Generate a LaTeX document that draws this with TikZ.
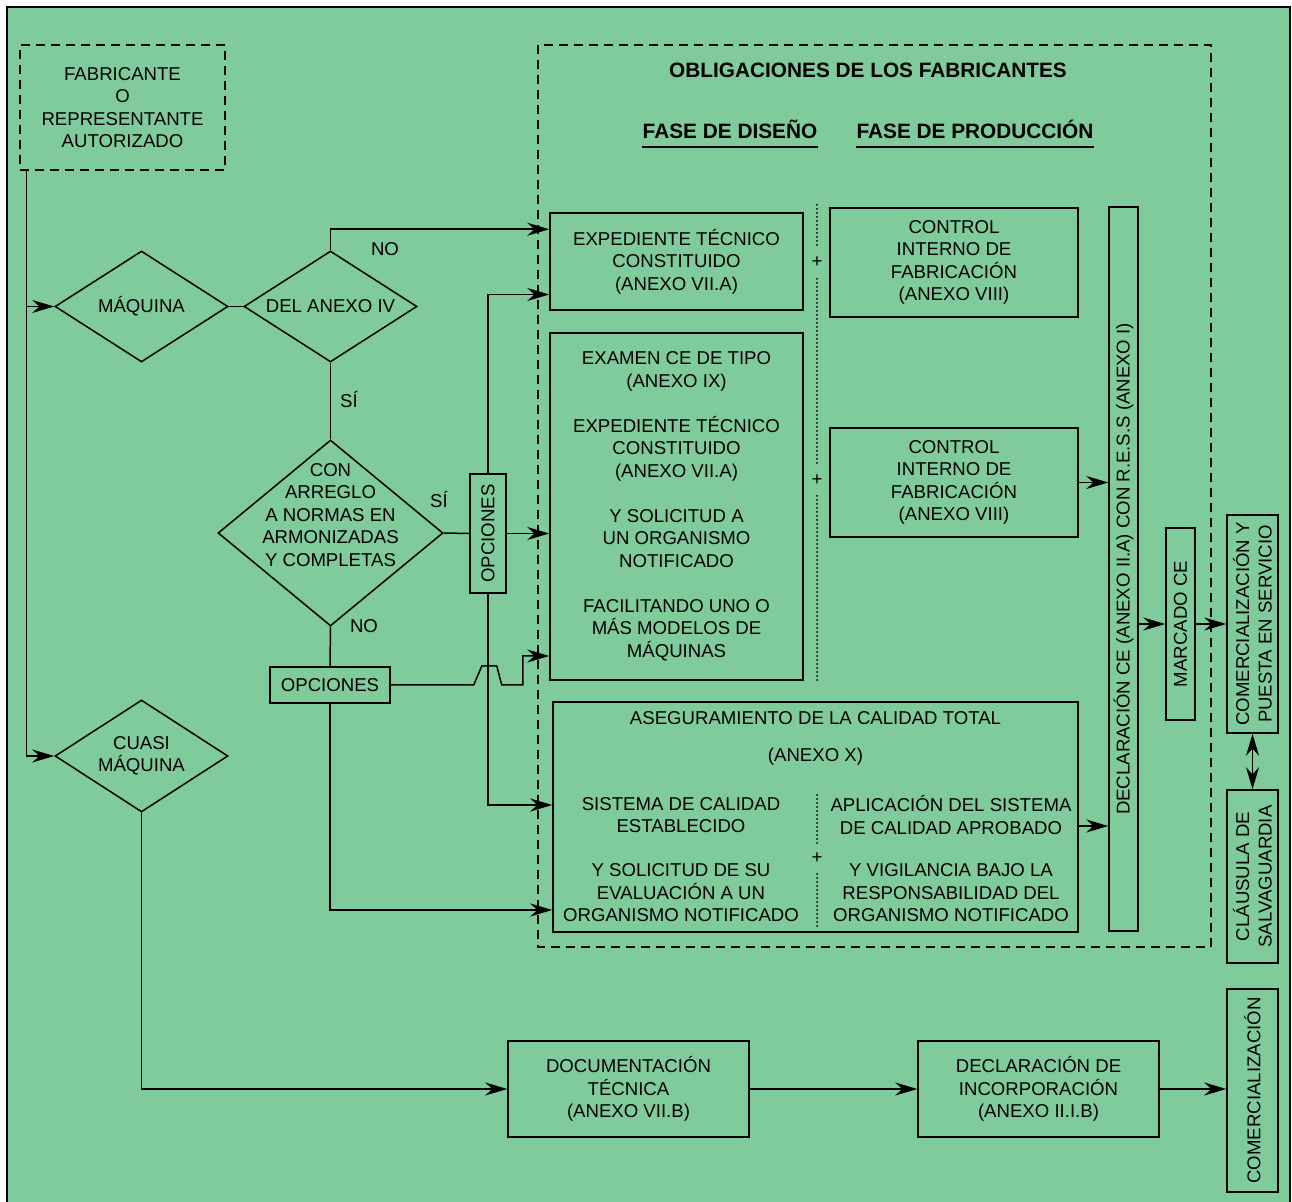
\documentclass[tikz,border=0pt]{standalone}
\usepackage{fontspec}
\setmainfont{Liberation Sans}
\usetikzlibrary{arrows.meta}
\usetikzlibrary{shapes.geometric}
\definecolor{mgreen}{RGB}{128, 203, 155}
\tikzset{txt/.style = {align = center, inner sep = 0, font = \fontsize{9.3}{11.25}\selectfont}}
\tikzset{box/.style = {txt, draw, line width = 0.75pt}}
\tikzset{vbox/.style = {box, rotate = 90}}
\tikzset{dashbox/.style = {draw, line width = 0.75pt, dash pattern = on 4.5pt off 3pt}}
\tikzset{head/.style = {inner xsep = 0, inner ysep = 4.25pt, font = \fontsize{10.4}{12}\selectfont\bfseries}}
\tikzset{rhomb/.style = {draw, diamond, line width = 0.75pt, inner sep = 0}}
\tikzset{arr/.style = {line width = 0.75pt, -{Stealth[length = 11pt, width = 6.5pt]}}}
\tikzset{link/.style = {line width = 0.75pt}}
\tikzset{dots/.style = {line width = 1pt, line cap = round, dash pattern = on 0pt off 2pt}}

\begin{document}
\begin{tikzpicture}[x = 0.5pt, y = -0.5pt]
    \useasboundingbox (0, 0) rectangle (1292, 1202);
    \fill [white] (0, 0) rectangle (1292, 1202);
    \draw [line width = 1pt, fill = mgreen] (7, 7) rectangle (1290, 1220);

    \node [box, dashbox, minimum width = 102.5pt, minimum height = 62.5pt] (fab) at (122.5, 107.5) {FABRICANTE\\O\\REPRESENTANTE\\AUTORIZADO};
    \draw [dashbox] (538, 45) rectangle (1211, 947);

    \node [head] (obl) at (868, 70) {OBLIGACIONES DE LOS FABRICANTES};
    \node [head] (fd) at (730, 129) {FASE DE DISEÑO};
    \node [head] (fp) at (975, 129) {FASE DE PRODUCCIÓN};
    \draw [link] (fd.south west) -- (fd.south east);
    \draw [link] (fp.south west) -- (fp.south east);

    \node [rhomb, minimum width = 86.5pt, minimum height = 55.5pt] (maq) at (141.5, 306.5) {};
    \node [txt] (maqt) at (maq) {MÁQUINA};
    \node [rhomb, minimum width = 86.5pt, minimum height = 55.5pt] (anx) at (330.5, 306.5) {};
    \node [txt] (anxt) at (anx) {DEL ANEXO IV};
    \node [rhomb, minimum width = 112.5pt, minimum height = 93pt] (con) at (330.5, 533) {};
    \node [txt] (cont) at ([yshift = 9pt]con.center) {CON\\ARREGLO\\A NORMAS EN\\ARMONIZADAS\\Y COMPLETAS};
    \node [rhomb, minimum width = 86.5pt, minimum height = 56pt] (cua) at (141.5, 756) {};
    \node [txt] (cuat) at (cua) {CUASI\\MÁQUINA};

    \node [vbox, minimum width = 59.5pt, minimum height = 18pt] (opv) at (488, 533.5) {OPCIONES};
    \node [box, minimum width = 60pt, minimum height = 18pt] (oph) at (330, 685) {OPCIONES};

    \node [box, minimum width = 126.5pt, minimum height = 48.5pt] (exp) at (676.5, 261.5) {EXPEDIENTE TÉCNICO\\CONSTITUIDO\\(ANEXO VII.A)};
    \node [box, minimum width = 126.5pt, minimum height = 173.5pt] (exa) at (676.5, 506.5) {EXAMEN CE DE TIPO\\(ANEXO IX)\\[11.25pt]EXPEDIENTE TÉCNICO\\CONSTITUIDO\\(ANEXO VII.A)\\[11.25pt]Y SOLICITUD A\\UN ORGANISMO\\NOTIFICADO\\[11.25pt]FACILITANDO UNO O\\MÁS MODELOS DE\\MÁQUINAS};
    \node [box, minimum width = 124pt, minimum height = 54.5pt] (ci1) at (954, 262.5) {CONTROL\\INTERNO DE\\FABRICACIÓN\\(ANEXO VIII)};
    \node [box, minimum width = 124pt, minimum height = 54.5pt] (ci2) at (954, 482.5) {CONTROL\\INTERNO DE\\FABRICACIÓN\\(ANEXO VIII)};

    \node [box, minimum width = 262.5pt, minimum height = 115pt] (cal) at (815.5, 817) {};
    \node [txt] (calt) at (815.5, 718) {ASEGURAMIENTO DE LA CALIDAD TOTAL};
    \node [txt] (cala) at (815.5, 757) {(ANEXO X)};
    \node [txt] (sis) at (681, 815) {SISTEMA DE CALIDAD\\ESTABLECIDO};
    \node [txt] (sol) at (681, 893) {Y SOLICITUD DE SU\\EVALUACIÓN A UN\\ORGANISMO NOTIFICADO};
    \node [txt] (apl) at (951, 815) {APLICACIÓN DEL SISTEMA\\DE CALIDAD APROBADO};
    \node [txt] (vig) at (951, 893) {Y VIGILANCIA BAJO LA\\RESPONSABILIDAD DEL\\ORGANISMO NOTIFICADO};

    \node [txt] (pl1) at (817, 262) {+};
    \node [txt] (pl2) at (817, 480) {+};
    \node [txt] (pl3) at (817, 858) {+};
    \draw [dots] (817, 205) -- (817, 246);
    \draw [dots] (817, 279) -- (817, 465);
    \draw [dots] (817, 496) -- (817, 680);
    \draw [dots] (817, 795) -- (817, 843);
    \draw [dots] (817, 874) -- (817, 928);

    \node [vbox, minimum width = 362pt, minimum height = 14.5pt] (dec) at (1123.5, 569) {DECLARACIÓN CE (ANEXO II.A) CON R.E.S.S (ANEXO I)};
    \node [vbox, minimum width = 96pt, minimum height = 14.5pt] (mar) at (1180.5, 624) {MARCADO CE};
    \node [vbox, minimum width = 109pt, minimum height = 25.5pt] (com) at (1252.5, 624) {COMERCIALIZACIÓN Y\\PUESTA EN SERVICIO};
    \node [vbox, minimum width = 86.5pt, minimum height = 25.5pt] (cla) at (1252.5, 876.5) {CLÁUSULA DE\\SALVAGUARDIA};
    \node [vbox, minimum width = 101.5pt, minimum height = 25.5pt] (cmb) at (1252.5, 1090.5) {COMERCIALIZACIÓN};

    \node [box, minimum width = 120.5pt, minimum height = 48pt] (doc) at (628.5, 1089) {DOCUMENTACIÓN\\TÉCNICA\\(ANEXO VII.B)};
    \node [box, minimum width = 120.5pt, minimum height = 48pt] (inc) at (1038.5, 1089) {DECLARACIÓN DE\\INCORPORACIÓN\\(ANEXO II.I.B)};

    \node [txt] (no1) at (385, 249) {NO};
    \node [txt] (si1) at (349, 400) {SÍ};
    \node [txt] (si2) at (439, 500) {SÍ};
    \node [txt] (no2) at (364, 626) {NO};

    \coordinate (bus) at ([xshift = 3.5pt]fab.south west);
    \draw [arr] (bus) |- (cua.west);
    \draw [arr] (bus |- maq.west) -- (maq.west);
    \draw [link] (maq.east) -- (anx.west);
    \draw [arr] (anx.north) -- ++(0, -21) coordinate (up) -- (up -| exp.west);
    \draw [link] (anx.south) -- (con.north);
    \draw [link] (con.east) -- (opv.north);
    \draw [arr] (opv.south) -- (opv.south -| exa.west);
    \draw [arr] (opv.east) |- ([yshift = -16.5pt]exp.west);
    \draw [arr] (opv.west) |- ([yshift = 6pt]cal.west);
    \draw [link] (con.south) -- (oph.north);
    \draw [arr] (oph.east) -- ++(83, 0) -- ++(8, -19) -- ++(15, 0) -- ++(5, 19) -- ++(21, 0) -- ++(0, -29) coordinate (jmp) -- (jmp -| exa.west);
    \draw [arr] (oph.south) |- ([yshift = -46.5pt]cal.west);
    \draw [arr] (ci2.east) -- (ci2.east -| dec.north);
    \draw [arr] ([yshift = -4.5pt]cal.east) -- ([yshift = -4.5pt]cal.east -| dec.north);
    \draw [arr] (dec.south |- mar.center) -- (mar.north);
    \draw [arr] (mar.south) -- (mar.south -| com.north);
    \draw [line width = 0.75pt, {Stealth[length = 11pt, width = 6.5pt]}-{Stealth[length = 11pt, width = 6.5pt]}] (com.west) -- (cla.east);
    \draw [arr] (cua.south) |- (doc.west);
    \draw [arr] (doc.east) -- (inc.west);
    \draw [arr] (inc.east) -- (inc.east -| cmb.north);
  \end{tikzpicture}
\end{document}
